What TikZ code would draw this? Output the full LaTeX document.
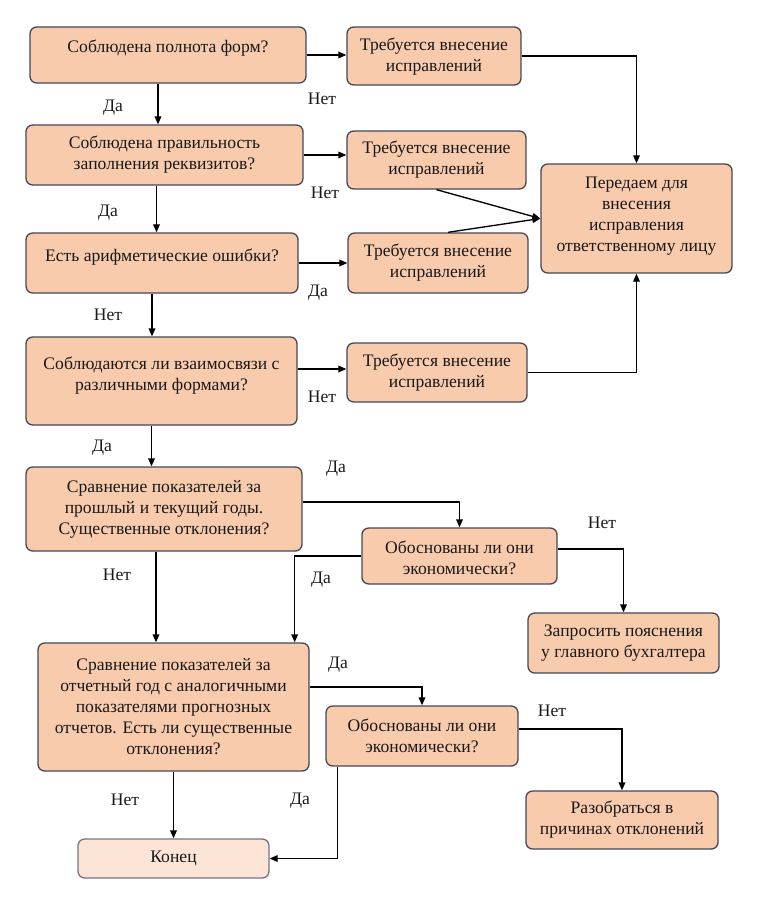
\documentclass[tikz,border=0pt]{standalone}
\usepackage{fontspec}
\setmainfont{Liberation Serif}
\newfontfamily\boxfont{Liberation Serif}
\usetikzlibrary{calc,fit,arrows.meta}
\definecolor{boxfill}{HTML}{F8CBAD}
\definecolor{endfill}{HTML}{FCE4D6}
\definecolor{boxline}{HTML}{474758}
\begin{document}
\begin{tikzpicture}[x=0.75pt,y=-0.75pt,
  box/.style={draw=boxline, fill=boxfill, rounded corners=5pt, line width=1pt, inner sep=0pt},
  endbox/.style={box, fill=endfill, draw=boxline!75},
  txt/.style={align=center, font=\boxfont\fontsize{13.2}{15.75}\selectfont, text=black!90, inner sep=0pt},
  lbl/.style={font=\boxfont\fontsize{13.2}{14}\selectfont, text=black!90, inner sep=0pt},
  arr/.style={-{Triangle[length=6pt,width=5pt]}, line width=1pt}]
\useasboundingbox (0,0) rectangle (770,902);

% boxes
\node[box, fit={(30,27) (306,83)}] (b1) {};
\node[box, fit={(347,27) (521,85)}] (a1) {};
\node[box, fit={(26,125) (303,185)}] (b2) {};
\node[box, fit={(347,131) (526,189)}] (a2) {};
\node[box, fit={(541,164) (732,273)}] (p) {};
\node[box, fit={(26,233) (298,293)}] (b3) {};
\node[box, fit={(348,233) (528,293)}] (a3) {};
\node[box, fit={(26,337) (297,425)}] (b4) {};
\node[box, fit={(347,343) (527,402)}] (a4) {};
\node[box, fit={(26,467) (302,551)}] (b5) {};
\node[box, fit={(362,528) (557,584)}] (q1) {};
\node[box, fit={(528,613) (719,673)}] (r1) {};
\node[box, fit={(38,643) (309,771)}] (b6) {};
\node[box, fit={(326,706) (518,766)}] (q2) {};
\node[box, fit={(526,791) (718,849)}] (r2) {};
\node[endbox, fit={(78,839) (269,878)}] (fin) {};

% texts
\node[txt] (t1) at ($(b1)+(0,-7)$) {Соблюдена полнота форм?};
\node[txt] (ta1) at ($(a1)+(0,1)$) {Требуется внесение\\исправлений};
\node[txt] (t2) at (b2) {Соблюдена правильность\\заполнения реквизитов?};
\node[txt] (ta2) at (a2) {Требуется внесение\\исправлений};
\node[txt] (tp) at ($(p)+(0,-2)$) {Передаем для\\внесения\\исправления\\ответственному лицу};
\node[txt] (t3) at ($(b3)+(0,-6)$) {Есть арифметические ошибки?};
\node[txt] (ta3) at (a3) {Требуется внесение\\исправлений};
\node[txt] (t4) at ($(b4)+(0,-5)$) {Соблюдаются ли взаимосвязи с\\различными формами?};
\node[txt] (ta4) at (a4) {Требуется внесение\\исправлений};
\node[txt] (t5) at (b5) {Сравнение показателей за\\прошлый и текущий годы.\\Существенные отклонения?};
\node[txt] (tq1) at ($(q1)+(0,2)$) {Обоснованы ли они\\экономически?};
\node[txt] (tr1) at (r1) {Запросить пояснения\\у главного бухгалтера};
\node[txt] (t6) at (b6) {Сравнение показателей за\\отчетный год с аналогичными\\показателями прогнозных\\отчетов. Есть ли существенные\\отклонения?};
\node[txt] (tq2) at (q2) {Обоснованы ли они\\экономически?};
\node[txt] (tr2) at (r2) {Разобраться в\\причинах отклонений};
\node[txt] (tfin) at (fin) {Конец};

% helper coordinates
\coordinate (s1) at ($(b1.south)+(-10,0)$);
\coordinate (s2) at ($(b2.south)+(-8,0)$);
\coordinate (s3) at ($(b3.south)+(-10,0)$);
\coordinate (s4) at ($(b4.south)+(-10,0)$);
\coordinate (s5) at ($(b5.south)+(-8,0)$);
\coordinate (e4) at ($(b4.east)+(0,-12)$);
\coordinate (e5) at ($(b5.east)+(0,-7)$);
\coordinate (e6) at ($(b6.east)+(0,-20)$);
\coordinate (eq1) at ($(q1.east)+(0,-7)$);
\coordinate (eq2) at ($(q2.east)+(0,-7)$);
\coordinate (da1) at ($(b6.north east)+(-15,0)$);
\coordinate (nq2) at ($(a3.north)+(10,0)$);
\coordinate (bq2) at ($(q2.south west)+(12,0)$);

% connectors
\draw[arr] (b1.east) -- (b1.east -| a1.west);
\draw[arr] (s1) -- (s1 |- b2.north);
\draw[arr] (b2.east) -- (b2.east -| a2.west);
\draw[arr] (s2) -- (s2 |- b3.north);
\draw[arr] (b3.east) -- (b3.east -| a3.west);
\draw[arr] (s3) -- (s3 |- b4.north);
\draw[arr] (e4) -- (e4 -| a4.west);
\draw[arr] (s4) -- (s4 |- b5.north);
\draw[arr] (s5) -- (s5 |- b6.north);
\draw[arr] (a1.east) -| (p.north);
\draw[arr] (a2.south) -- (p.west);
\draw[arr] (nq2) -- (p.west);
\draw[arr] (a4.east) -| (p.south);
\draw[arr] (e5) -| (q1.north);
\draw[arr] (eq1) -| (r1.north);
\draw[arr] (q1.west) -| (da1);
\draw[arr] (e6) -| (q2.north);
\draw[arr] (eq2) -| (r2.north);
\draw[arr] (b6.south) -- (fin.north);
\draw[arr] (bq2) |- (fin.east);

% labels
\node[lbl] (l1) at (113,108) {Да};
\node[lbl] (l2) at (322,99) {Нет};
\node[lbl] (l3) at (325,193) {Нет};
\node[lbl] (l4) at (108,213) {Да};
\node[lbl] (l5) at (318,293) {Да};
\node[lbl] (l6) at (108,315) {Нет};
\node[lbl] (l7) at (322,397) {Нет};
\node[lbl] (l8) at (102,448) {Да};
\node[lbl] (l9) at (336,469) {Да};
\node[lbl] (l10) at (602,523) {Нет};
\node[lbl] (l11) at (321,580) {Да};
\node[lbl] (l12) at (117,575) {Нет};
\node[lbl] (l13) at (338,665) {Да};
\node[lbl] (l14) at (552,711) {Нет};
\node[lbl] (l15) at (125,800) {Нет};
\node[lbl] (l16) at (300,801) {Да};
\end{tikzpicture}
\end{document}
